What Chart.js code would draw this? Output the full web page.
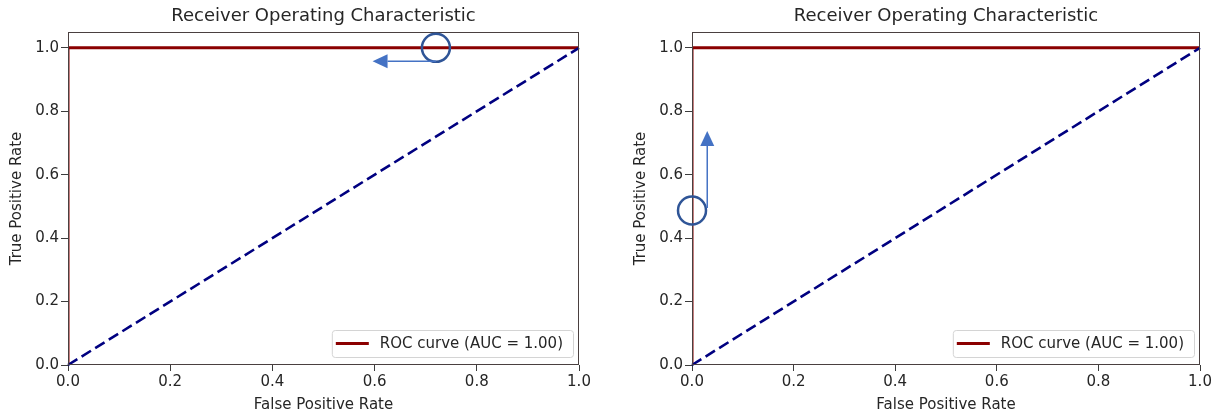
<!DOCTYPE html>
<html>
<head>
<meta charset="utf-8">
<script src="https://cdn.jsdelivr.net/npm/chart.js@4.4.1/dist/chart.umd.min.js"></script>
<style>
  html, body { margin: 0; padding: 0; background: #fff; }
  body { width: 1224px; height: 417px; position: relative; overflow: hidden; }
  .panel { position: absolute; top: 0; width: 612px; height: 417px; }
</style>
</head>
<body>
<div class="panel" style="left:0"><canvas id="roc1"></canvas></div>
<div class="panel" style="left:612px"><canvas id="roc2"></canvas></div>
<script>
// data
const fpr = [0, 0, 1];
const tpr = [0, 1, 1];
const chanceX = [0, 1];
const chanceY = [0, 1];
const xTicks = [0, 0.2, 0.4, 0.6, 0.8, 1.0];
const yTicks = [0, 0.2, 0.4, 0.6, 0.8, 1.0];
const rocLabel = "ROC curve (AUC = 1.00)";
const titleText = "Receiver Operating Characteristic";

// hand-drawn callouts, in data units
const callout1 = { circle: [0.72, 1.0], from: [0.72, 0.958], to: [0.596, 0.958] };
const callout2 = { circle: [0, 0.487], from: [0.03, 0.495], to: [0.03, 0.738] };

Chart.defaults.font.family = "'DejaVu Sans', sans-serif";
Chart.defaults.font.size = 15;
Chart.defaults.color = "#262626";

const decor = {
  id: "decor",
  afterDatasetsDraw(chart, args, opts) {
    const { ctx, chartArea: a, scales: { x, y } } = chart;
    ctx.save();

    // axes frame
    ctx.strokeStyle = "#4a4040";
    ctx.lineWidth = 1;
    ctx.strokeRect(a.left + 0.5, a.top + 0.5, a.right - a.left - 1, a.bottom - a.top - 1);

    // title
    ctx.fillStyle = "#262626";
    ctx.font = "18px 'DejaVu Sans'";
    ctx.textAlign = "center";
    ctx.textBaseline = "middle";
    ctx.fillText(titleText, (a.left + a.right) / 2, 16);

    // legend, lower right
    const ds = chart.data.datasets[0];
    ctx.font = "15px 'DejaVu Sans'";
    const tw = ctx.measureText(ds.label).width;
    const w = 48 + tw + 10, h = 27;
    const bx = a.right - 6 - w, by = a.bottom - 8 - h;
    ctx.beginPath();
    ctx.roundRect(bx + 0.5, by + 0.5, w, h, 3);
    ctx.fillStyle = "rgba(255,255,255,0.8)";
    ctx.fill();
    ctx.strokeStyle = "#d4d4d4";
    ctx.lineWidth = 1;
    ctx.stroke();
    ctx.beginPath();
    ctx.moveTo(bx + 4, by + h / 2);
    ctx.lineTo(bx + 37, by + h / 2);
    ctx.strokeStyle = ds.borderColor;
    ctx.lineWidth = 3;
    ctx.stroke();
    ctx.fillStyle = "#262626";
    ctx.textAlign = "left";
    ctx.fillText(ds.label, bx + 48, by + h / 2 + 1);

    // callout circle and arrow
    const c = opts.callout;
    if (c) {
      const cx = x.getPixelForValue(c.circle[0]), cy = y.getPixelForValue(c.circle[1]);
      ctx.beginPath();
      ctx.arc(cx, cy, 14, 0, Math.PI * 2);
      ctx.strokeStyle = "#2f5597";
      ctx.lineWidth = 2.5;
      ctx.stroke();

      const x0 = x.getPixelForValue(c.from[0]), y0 = y.getPixelForValue(c.from[1]);
      const x1 = x.getPixelForValue(c.to[0]), y1 = y.getPixelForValue(c.to[1]);
      const ang = Math.atan2(y1 - y0, x1 - x0);
      const hl = 15, hw = 7;
      const bxh = x1 - hl * Math.cos(ang), byh = y1 - hl * Math.sin(ang);
      ctx.beginPath();
      ctx.moveTo(x0, y0);
      ctx.lineTo(bxh, byh);
      ctx.strokeStyle = "#4472c4";
      ctx.lineWidth = 1.5;
      ctx.stroke();
      ctx.beginPath();
      ctx.moveTo(x1, y1);
      ctx.lineTo(bxh + hw * Math.sin(ang), byh - hw * Math.cos(ang));
      ctx.lineTo(bxh - hw * Math.sin(ang), byh + hw * Math.cos(ang));
      ctx.closePath();
      ctx.fillStyle = "#4472c4";
      ctx.fill();
    }
    ctx.restore();
  },
};

function rocChart(id, yWidth, padRight, yTitlePad, callout) {
  return new Chart(document.getElementById(id), {
    type: "line",
    data: {
      datasets: [
        {
          label: rocLabel,
          data: fpr.map((v, i) => ({ x: v, y: tpr[i] })),
          borderColor: "#8b0000",
          borderWidth: 3,
          order: 1,
          clip: 0,
        },
        {
          label: "chance",
          data: chanceX.map((v, i) => ({ x: v, y: chanceY[i] })),
          borderColor: "#000080",
          borderWidth: 2.6,
          borderDash: [11, 5],
          order: 0,
          clip: 3,
        },
      ],
    },
    options: {
      responsive: true,
      maintainAspectRatio: false,
      animation: false,
      layout: { padding: { top: 32, right: padRight, left: 0, bottom: 0 } },
      elements: { point: { radius: 0 }, line: { tension: 0 } },
      plugins: {
        legend: { display: false },
        tooltip: { enabled: false },
        decor: { callout: callout },
      },
      scales: {
        x: {
          type: "linear",
          min: 0,
          max: 1,
          afterBuildTicks: (s) => { s.ticks = xTicks.map((v) => ({ value: v })); },
          afterFit: (s) => { s.height = 52; },
          ticks: { padding: 2, maxRotation: 0, callback: (v) => v.toFixed(1) },
          grid: { drawOnChartArea: false, tickLength: 6, color: "#3c3c3c" },
          border: { display: false },
          title: { display: true, text: "False Positive Rate", padding: { top: 0, bottom: 3 } },
        },
        y: {
          type: "linear",
          min: 0,
          max: 1.05,
          afterBuildTicks: (s) => { s.ticks = yTicks.map((v) => ({ value: v })); },
          afterFit: (s) => { s.width = yWidth; },
          ticks: { padding: 2, callback: (v) => v.toFixed(1) },
          grid: { drawOnChartArea: false, tickLength: 7, color: "#3c3c3c" },
          border: { display: false },
          title: { display: true, text: "True Positive Rate", padding: { top: yTitlePad, bottom: 0 } },
        },
      },
    },
    plugins: [decor],
  });
}

rocChart("roc1", 68, 33, 8, callout1);
rocChart("roc2", 80, 24, 20, callout2);
</script>
</body>
</html>
